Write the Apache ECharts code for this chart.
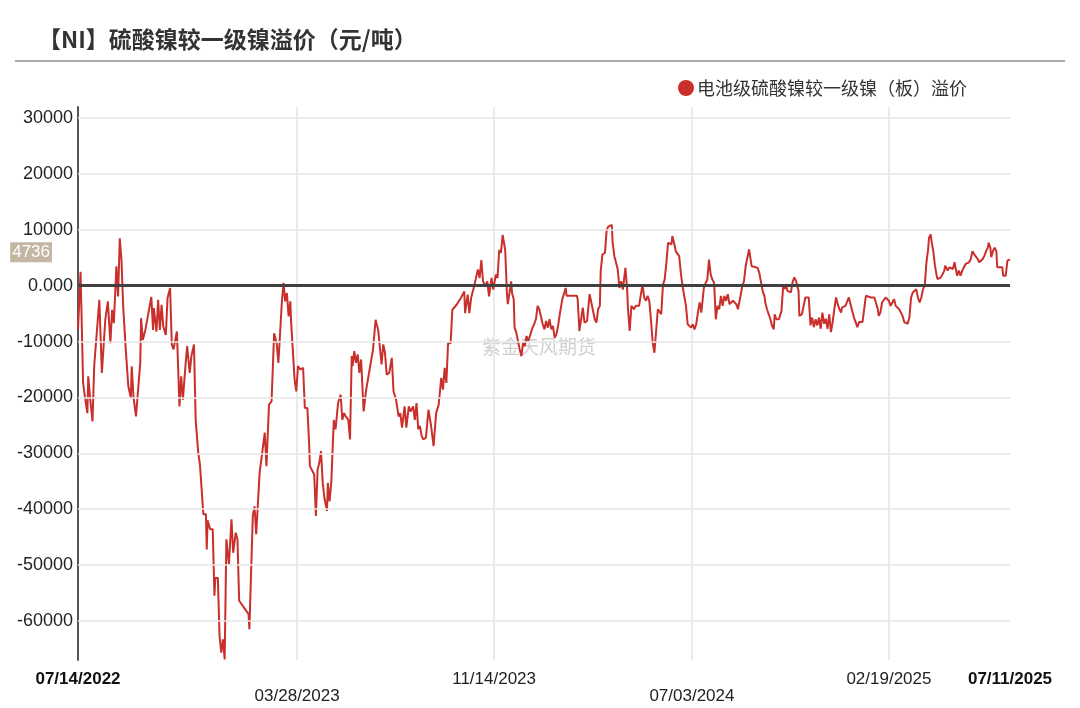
<!DOCTYPE html>
<html>
<head>
<meta charset="utf-8">
<script src="https://cdn.jsdelivr.net/npm/echarts@6/dist/echarts.min.js"></script>
<style>
html,body{margin:0;padding:0;background:#fff;}
#c{width:1080px;height:708px;}
</style>
</head>
<body>
<div id="c"></div>
<script>
// ---- data ----
const startDate = '07/14/2022';
const endDate = '07/11/2025';
const tickLabels = ['07/14/2022', '03/28/2023', '11/14/2023', '07/03/2024', '02/19/2025', '07/11/2025'];
const boldTicks = ['07/14/2022', '07/11/2025'];
const lowTicks = ['03/28/2023', '07/03/2024'];
const yTicks = [-60000, -50000, -40000, -30000, -20000, -10000, 10000, 20000, 30000];
const seriesName = '电池级硫酸镍较一级镍（板）溢价';
const lastValue = 4736;

// days since 07/14/2022
const days = [
0,3,6,8,11,12,14,17,19,21,25,28,32,35,38,40,42,44,45,47,49,51,53,55,56,59,62,63,65,68,73,74,76,79,86,88,89,92,94,96,98,100,103,105,108,110,112,116,119,121,123,126,128,131,133,136,138,141,143,145,147,150,151,152,155,158,160,161,164,166,168,170,172,174,177,180,182,185,187,189,200,201,205,207,209,213,214,216,219,221,224,227,230,233,235,237,239,241,243,245,247,249,250,254,256,258,261,264,266,269,271,272,
274,277,279,281,283,285,287,289,292,293,295,297,300,302,305,308,310,312,314,317,319,321,322,324,326,328,330,332,335,338,342,346,349,352,354,356,358,360,362,365,368,370,373,376,378,380,383,385,388,390,393,395,397,399,401,403,405,408,411,414,417,420,423,426,428,430,432,434,437,439,444,449,453,454,457,459,461,465,469,471,473,475,478,480,482,485,487,490,492,494,496,498,500,501,
503,504,506,508,509,511,512,514,516,518,520,521,522,524,526,528,530,531,533,535,537,539,541,543,545,547,549,551,553,555,557,559,561,563,565,568,572,573,576,580,585,586,588,590,592,594,597,599,600,602,604,606,608,610,612,613,615,618,620,622,624,626,627,629,631,633,635,637,639,641,642,644,645,647,649,650,652,654,656,658,660,662,664,666,668,670,672,674,676,678,680,682,684,686,688,690,692,694,696,697,699,701,703,705,707,709,711,713,715,717,719,721,723,725,727,729,731,732,734,736,738,740,742,744,746,748,750,752,754,756,758,760,762,764,766,768,770,772,774,775,777,779,781,783,785,787,789,790,793,797,799,803,805,806,808,810,812,814,816,817,819,822,
825,827,829,830,832,834,836,838,840,842,844,845,846,849,853,855,857,859,861,863,865,867,869,871,873,875,877,879,881,883,885,887,889,891,893,895,896,898,900,902,904,906,908,910,912,914,916,918,920,922,924,926,930,934,936,938,939,941,943,945,947,949,951,953,955,957,959,961,963,965,967,969,971,973,975,977,979,980,981,983,985,987,989,991,993,995,997,998,1000,1001,1003,1005,1007,1008,1010,1012,1014,1016,1017,1019,1020,1022,1024,1026,1028,1029,1031,1033,1035,1037,1039,1041,1043,1045,1047,1049,1051,1053,1055,1057,1059,1061,1063,1065,1067,1068,1070,1071,1073,1075,1077,1078,1080,1084,1085,1088,1090,1093
];

const values = [
-7900,2500,-17400,-19800,-22800,-16200,-19800,-24300,-14400,-14100,-2500,-15600,-6100,-2800,-10300,-4300,-6700,-100,3500,-1900,8500,4600,-3700,-4000,-11400,-18000,-20100,-14400,-19800,-23400,-13800,-5800,-9700,-7900,-2000,-7900,-4000,-8200,-2500,-7900,-3400,-7300,-8800,-2200,-400,-10500,-11400,-8200,-21600,-16200,-20400,-14400,-10800,-15600,-12600,-10500,-24000,-29900,-32000,-31700,-40900,-40900,-47200,-42000,-43600,-43600,-55500,-52300,-52300,-62700,-65700,-63300,-66900,-45400,-49900,-41800,-47800,-44200,-45400,-56400,-58800,-61500,-41200,-39500,-44500,-33500,-32300,-29900,-26300,-32300,-21300,-20700,-8500,-10300,-13800,-8500,-3100,500,-2800,-1300,-5500,-2800,-6700,-16800,-18900,-14400,-15000,-14700,-21900,-21900,-28100,-32300,
-32600,-33800,-41200,-32900,-31700,-29600,-35300,-38000,-40300,-35300,-38600,-35300,-24000,-25700,-21000,-19500,-24000,-22800,-23400,-24000,-27500,-12600,-14400,-11700,-13800,-12300,-15600,-13200,-22500,-18600,-15000,-11400,-6100,-7900,-7900,-14100,-10500,-12000,-15900,-15600,-12900,-18900,-20400,-23400,-22800,-25400,-21600,-25400,-21600,-22500,-21600,-24000,-21000,-25700,-25100,-26900,-27500,-27200,-22200,-25000,-28700,-22800,-21300,-16500,-18600,-14700,-17400,-10300,-10300,-4300,-3400,-2200,-1000,-4900,-1600,-4900,-2200,200,2900,1400,4600,800,-100,800,-1900,1400,-700,2000,1400,6400,5900,9100,8800,6400,
-1300,-3300,-1300,800,-1300,-2400,-7500,-8400,-8700,-11400,-12600,-12900,-10200,-10800,-9000,-9900,-9000,-9300,-7500,-6900,-6000,-3600,-4200,-4200,-6900,-7800,-6300,-7500,-6000,-7800,-7200,-9300,-8700,-7200,-5100,-2400,-400,-1800,-1800,-1800,-1800,-2400,-8100,-6000,-3900,-6600,-6300,-6600,-1500,-3000,-3300,-6000,-6600,-4200,-3600,2600,5600,5900,10000,10600,10300,10900,7700,5300,4100,2900,-400,800,-700,-400,3200,-700,-4200,-8100,-3600,-3300,-4200,-3600,-3900,-3600,-3900,200,-2100,-2700,-1800,-2700,-6300,-10200,-12000,-8100,-4200,-4200,-5100,200,1100,4100,7700,8000,7400,8900,7700,6200,5900,5300,2300,-100,-400,-3600,-6900,-6900,-7500,-6900,-7800,-6900,-4800,-3000,-4800,-3300,-400,500,1100,4700,2000,1100,500,-6000,-3600,-4200,-1800,-3600,-1800,-2700,-1500,-3300,-3000,-2700,-2400,-3300,-4200,-3300,-1800,-100,800,3500,5000,6500,6200,3500,3400,3200,2300,-1000,-1800,-3000,-4200,-5100,-6000,-7200,-7800,-5100,-6000,-6000,
-4500,0,-600,300,-900,-900,-1200,600,1500,900,600,-900,-5400,-5100,-2100,-1800,-2100,-7100,-5700,-7400,-6000,-7100,-5700,-7700,-4800,-6800,-5900,-7700,-5100,-8300,-6500,-4200,-2100,-3300,-4200,-4800,-3900,-4200,-3600,-3300,-2100,-2400,-4500,-5700,-6500,-7400,-6500,-6800,-6500,-6500,-1800,-2100,-2100,-2100,-2100,-4200,-5400,-4800,-3000,-2700,-2100,-1800,-2700,-3600,-3000,-2400,-3600,-3900,-4200,-4000,-5400,-6500,-6200,-6800,-5700,-2100,-1200,-900,-1500,-600,-2100,-3000,-2100,-600,0,4200,6500,8600,9200,8000,6200,3600,1800,1200,1500,1500,1800,2700,3600,3300,2700,3300,3300,3000,4200,3300,1800,2700,1800,2700,3300,3900,4200,4200,4800,6200,5600,5400,4800,4200,3900,4800,5400,6200,6800,7700,6800,5100,6200,6800,6200,3300,3300,3300,1800,1800,4500,4736
];

// ---- build categories (calendar days) ----
function pad(n){return (n<10?'0':'')+n;}
function parseMDY(s){const p=s.split('/');return Date.UTC(+p[2],+p[0]-1,+p[1]);}
const categories = [];
for (let t = parseMDY(startDate); t <= parseMDY(endDate); t += 86400000) {
  const d = new Date(t);
  categories.push(pad(d.getUTCMonth()+1)+'/'+pad(d.getUTCDate())+'/'+d.getUTCFullYear());
}
const tickIdx = tickLabels.map(l => categories.indexOf(l));
const innerIdx = tickIdx.slice(1, -1);

const chart = echarts.init(document.getElementById('c'), null, {renderer:'canvas'});
const FONT = '"Liberation Sans", Arial, sans-serif';
chart.setOption({
  animation: false,
  backgroundColor: '#fff',
  title: {
    text: '【NI】硫酸镍较一级镍溢价（元/吨）',
    left: 33, top: 23,
    textStyle: {fontSize: 23, fontWeight: 'bold', color: '#333', fontFamily: '"Noto Sans CJK SC", sans-serif'}
  },
  legend: {
    left: 673, top: 74,
    icon: 'circle', itemWidth: 16, itemHeight: 16, itemGap: 10,
    textStyle: {fontSize: 18, color: '#333', fontFamily: '"Noto Sans CJK SC", sans-serif', padding: [0,0,0,-2]},
    data: [seriesName]
  },
  graphic: [
    {type: 'line', shape: {x1: 15, y1: 61, x2: 1065, y2: 61}, style: {stroke: '#aaaaaa', lineWidth: 2}, z: 0},
    {type: 'text', left: 482, top: 337, z: 0,
     style: {text: '紫金天风期货', fontSize: 19, fill: 'rgba(170,170,170,0.55)', fontFamily: '"Noto Sans CJK SC", sans-serif'}}
  ],
  grid: {left: 78, right: 70, top: 107, bottom: 48, containLabel: false, outerBoundsMode: 'none'},
  xAxis: {
    type: 'category',
    data: categories,
    boundaryGap: false,
    axisLine: {show: false},
    axisTick: {show: false},
    axisLabel: {
      interval: (i) => tickIdx.indexOf(i) >= 0,
      margin: 11,
      fontSize: 17, lineHeight: 17, color: '#222', fontFamily: FONT,
      formatter: (v) => boldTicks.indexOf(v) >= 0 ? '{b|' + v + '}' : (lowTicks.indexOf(v) >= 0 ? '\n' + v : v),
      rich: {b: {fontSize: 17, lineHeight: 17, fontWeight: 'bold', color: '#111', fontFamily: FONT}}
    },
    splitLine: {
      show: true,
      interval: (i) => innerIdx.indexOf(i) >= 0,
      lineStyle: {color: '#e3e3e3', width: 1.5}
    }
  },
  yAxis: {
    type: 'value',
    min: -67000, max: 32000, interval: 1000,
    axisLine: {show: true, lineStyle: {color: '#555', width: 2}},
    axisTick: {show: false},
    splitLine: {show: false},
    axisLabel: {
      margin: 5, fontSize: 18, color: '#222', fontFamily: FONT,
      formatter: (v) => (v % 10000 === 0) ? (v === 0 ? '0.000' : String(v)) : ''
    }
  },
  series: [
    {
      type: 'line', name: '_grid', data: [], z: 1, silent: true,
      markLine: {
        silent: true, symbol: 'none', animation: false,
        label: {show: false},
        data: yTicks.map(v => ({yAxis: v, lineStyle: {color: '#e6e6e6', width: 1.5, type: 'solid'}}))
          .concat([{yAxis: 0, lineStyle: {color: '#404040', width: 3, type: 'solid'}}])
      }
    },
    {
      type: 'line', name: seriesName,
      data: days.map((d, i) => [d, values[i]]),
      showSymbol: false, symbol: 'none',
      lineStyle: {color: '#c9302c', width: 2},
      itemStyle: {color: '#c9302c'},
      z: 3,
      markLine: {
        silent: true, symbol: 'none', animation: false,
        data: [{
          yAxis: lastValue,
          lineStyle: {color: 'rgba(0,0,0,0)', width: 0},
          label: {
            show: true, position: 'start', distance: 26, offset: [0, -7],
            formatter: String(lastValue),
            color: '#fff', backgroundColor: '#c4b6a2', padding: [2, 2, 1, 2],
            fontSize: 17, fontFamily: FONT
          }
        }]
      }
    }
  ]
});
</script>
</body>
</html>
